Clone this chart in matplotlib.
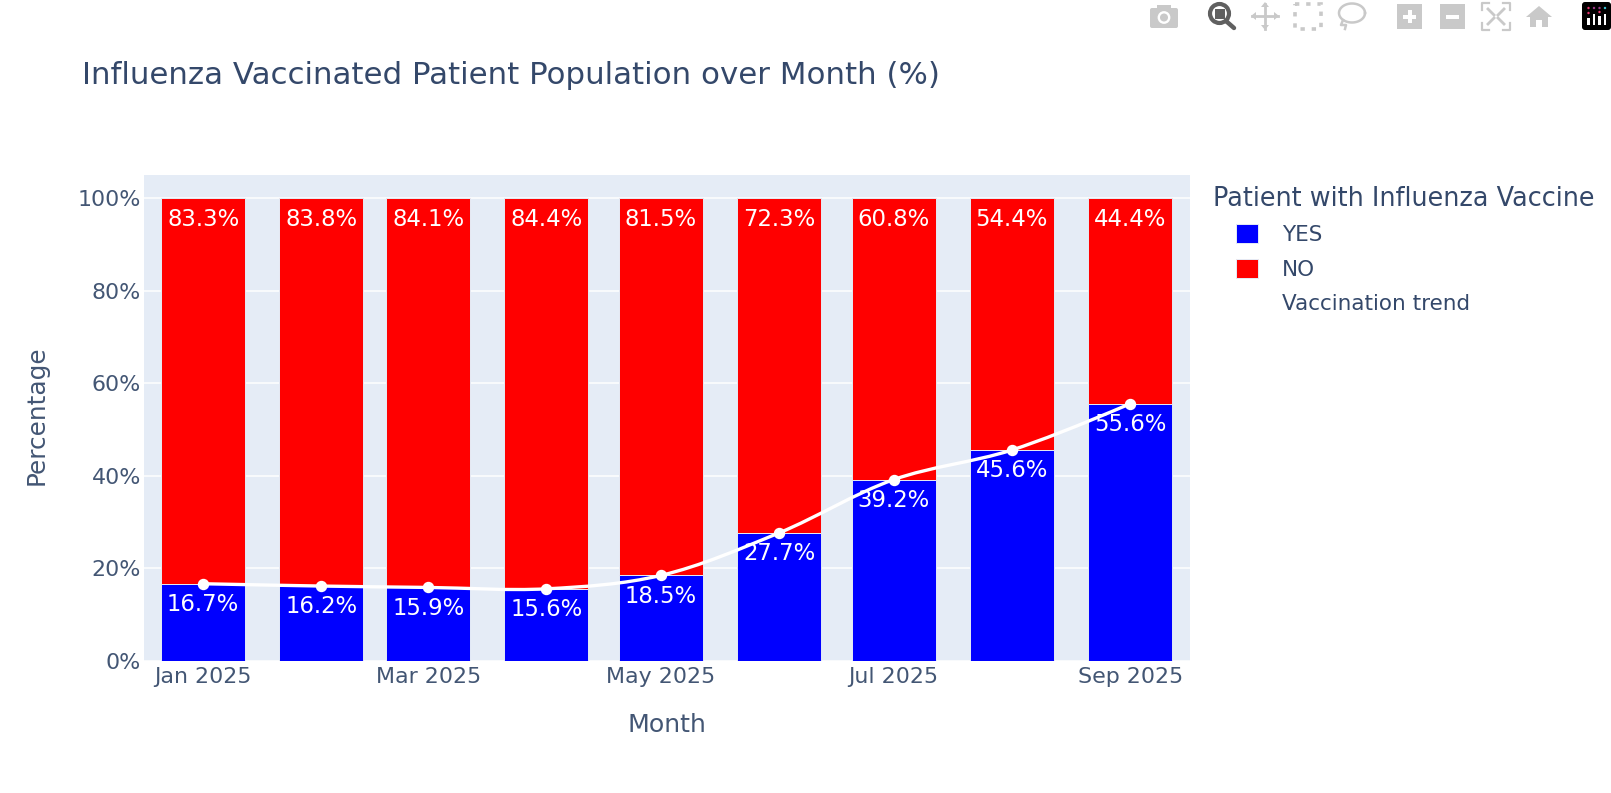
from datetime import datetime

import matplotlib
matplotlib.use("Agg")
import matplotlib.dates as mdates
import matplotlib.pyplot as plt
import numpy as np
from matplotlib.lines import Line2D
from matplotlib.patches import (Circle, FancyBboxPatch, PathPatch, Polygon,
                                Rectangle)
from matplotlib.path import Path

# Monthly vaccination shares, in percent
months = ["2025-01-01", "2025-02-01", "2025-03-01", "2025-04-01", "2025-05-01",
          "2025-06-01", "2025-07-01", "2025-08-01", "2025-09-01"]
vaccinated_yes = [16.7, 16.2, 15.9, 15.6, 18.5, 27.7, 39.2, 45.6, 55.6]
vaccinated_no = [83.3, 83.8, 84.1, 84.4, 81.5, 72.3, 60.8, 54.4, 44.4]
x_tick_months = ["2025-01-01", "2025-03-01", "2025-05-01", "2025-07-01", "2025-09-01"]
x_tick_labels = ["Jan 2025", "Mar 2025", "May 2025", "Jul 2025", "Sep 2025"]
y_ticks = [0, 20, 40, 60, 80, 100]

INK = "#34486a"
TICK_INK = "#435674"
PLOT_BG = "#e5ecf6"
W, H = 1611, 793

plt.rcParams["font.family"] = "DejaVu Sans"
fig = plt.figure(figsize=(W / 100, H / 100), dpi=100, facecolor="white")
ax = fig.add_axes([144 / W, 1 - 661 / H, (1190 - 144) / W, (661 - 175) / H])
ax.set_facecolor(PLOT_BG)

dates = [mdates.date2num(datetime.strptime(m, "%Y-%m-%d")) for m in months]
BAR_DAYS = 22

bars_yes = ax.bar(dates, vaccinated_yes, width=BAR_DAYS, color="#0000ff",
                  edgecolor=PLOT_BG, linewidth=0.7, zorder=2, label="YES")
bars_no = ax.bar(dates, vaccinated_no, width=BAR_DAYS, bottom=vaccinated_yes,
                 color="#ff0000", edgecolor=PLOT_BG, linewidth=0.7, zorder=2, label="NO")

ax.set_xlim(dates[0] - 15.5, dates[-1] + 15.7)
ax.set_ylim(0, 105.05)
ax.set_yticks(y_ticks)
ax.set_yticklabels([f"{v}%" for v in y_ticks])
ax.set_xticks([mdates.date2num(datetime.strptime(m, "%Y-%m-%d")) for m in x_tick_months])
ax.set_xticklabels(x_tick_labels)
ax.tick_params(axis="x", length=0, labelsize=15.9, labelcolor=TICK_INK, pad=4.3)
ax.tick_params(axis="y", length=0, labelsize=15.9, labelcolor=TICK_INK, pad=2)
ax.grid(axis="y", color="white", linewidth=1.1, zorder=1)
ax.set_axisbelow(True)
for spine in ax.spines.values():
    spine.set_visible(False)
ax.set_xlabel("Month", fontsize=18.2, color=TICK_INK, labelpad=19)
ax.set_ylabel("Percentage", fontsize=17.8, color=TICK_INK, labelpad=21, y=0.505)


def spline_path(xs, ys, sx, sy):
    """Smoothed path through the points, tangents computed in screen proportions."""
    pts = np.column_stack([np.asarray(xs) * sx, np.asarray(ys) * sy])
    tangents = []
    for i in range(1, len(pts) - 1):
        d1 = pts[i - 1] - pts[i]
        d2 = pts[i + 1] - pts[i]
        a1 = np.hypot(*d1) ** 0.5
        a2 = np.hypot(*d2) ** 0.5
        num = a2 * a2 * d1 - a1 * a1 * d2
        tangents.append((pts[i] + num / (3 * a2 * (a1 + a2)),
                         pts[i] - num / (3 * a1 * (a1 + a2))))
    verts = [pts[0], tangents[0][0], pts[1]]
    codes = [Path.MOVETO, Path.CURVE3, Path.CURVE3]
    for i in range(2, len(pts) - 1):
        verts += [tangents[i - 2][1], tangents[i - 1][0], pts[i]]
        codes += [Path.CURVE4] * 3
    verts += [tangents[-1][1], pts[-1]]
    codes += [Path.CURVE3] * 2
    return Path(np.array(verts) / [sx, sy], codes)


# Trend line over the YES share
ax.add_patch(PathPatch(spline_path(dates, vaccinated_yes, 3.815, 4.625),
                       facecolor="none", edgecolor="white", linewidth=2.4, zorder=3))
trend = ax.plot(dates, vaccinated_yes, linestyle="none", marker="o", color="white",
                markersize=7.2, zorder=4, label="Vaccination trend")[0]

# Value labels sit just inside the top of each segment
for d, yes, no in zip(dates, vaccinated_yes, vaccinated_no):
    ax.annotate(f"{yes:.1f}%", (d, yes), xytext=(0, -15), textcoords="offset points",
                ha="center", va="center", color="white", fontsize=16.4, zorder=5)
    ax.annotate(f"{no:.1f}%", (d, yes + no), xytext=(0, -15.5), textcoords="offset points",
                ha="center", va="center", color="white", fontsize=16.4, zorder=5)

fig.text(82 / W, 1 - 75 / H, "Influenza Vaccinated Patient Population over Month (%)",
         fontsize=22.2, color=INK, ha="left", va="center")

# Legend
handles = [Rectangle((0, 0), 1, 1, facecolor="#0000ff", edgecolor=PLOT_BG, linewidth=0.7),
           Rectangle((0, 0), 1, 1, facecolor="#ff0000", edgecolor=PLOT_BG, linewidth=0.7),
           Line2D([], [], color="white", marker="o", markerfacecolor="white", linewidth=2)]
legend = fig.legend(handles, ["YES", "NO", "Vaccination trend"],
                    loc="upper left", bbox_to_anchor=(1236 / W, 1 - 224 / H),
                    frameon=False, fontsize=15.5,
                    handlelength=1.0, handleheight=1.0, handletextpad=1.14,
                    labelspacing=0.63, borderpad=0, borderaxespad=0)
for t in legend.get_texts():
    t.set_color(INK)
fig.text(1213 / W, 1 - 199 / H, "Patient with Influenza Vaccine", fontsize=18.4,
         color=INK, ha="left", va="center")

# Modebar icons along the top edge, drawn in pixel coordinates
tb = fig.add_axes([0, 0, 1, 1], zorder=10)
tb.set_xlim(0, W)
tb.set_ylim(H, 0)
tb.axis("off")
tb.patch.set_alpha(0)
GREY = "#c9c9c9"
DARK = "#606060"

# camera
tb.add_patch(FancyBboxPatch((1150, 8), 28, 20, boxstyle="round,pad=0,rounding_size=2", fc=GREY, ec="none"))
tb.add_patch(Rectangle((1157, 5), 14, 4, fc=GREY, ec="none"))
tb.add_patch(Circle((1164, 17.5), 6.4, fc="white", ec="none"))
tb.add_patch(Circle((1164, 17.5), 4, fc=GREY, ec="none"))
# zoom lens (active)
tb.add_patch(Circle((1219.5, 13.5), 9.5, fc="white", ec=DARK, lw=3))
tb.add_patch(Rectangle((1214.5, 8.5), 10, 10, fc=DARK, ec="none"))
tb.plot([1226, 1234], [21, 28], color=DARK, lw=3.2, solid_capstyle="round")
# pan
tb.plot([1252, 1278], [16, 16], color=GREY, lw=2)
tb.plot([1265, 1265], [4, 29], color=GREY, lw=2)
for tip in ([1251, 16, 1256, 12, 1256, 20], [1279, 16, 1274, 12, 1274, 20],
            [1265, 2, 1261, 7, 1269, 7], [1265, 30, 1261, 25, 1269, 25]):
    tb.add_patch(Polygon(np.reshape(tip, (3, 2)), fc=GREY, ec="none"))
# box select
tb.add_patch(Rectangle((1295, 3.5), 26, 25, fc="none", ec=GREY, lw=2.6, ls=(0, (1.2, 1.9))))
# lasso
theta = np.linspace(0, 2 * np.pi, 80)
tb.plot(1352 + 13 * np.cos(theta), 13 + 9.5 * np.sin(theta), color=GREY, lw=1.8)
tb.plot([1343, 1341, 1346, 1345], [20, 25, 25, 29], color=GREY, lw=1.8)
# zoom in / zoom out
tb.add_patch(Rectangle((1397, 4), 25, 25, fc=GREY, ec="none"))
tb.add_patch(Rectangle((1403, 14.5), 13, 4, fc="white", ec="none"))
tb.add_patch(Rectangle((1407.5, 10), 4, 13, fc="white", ec="none"))
tb.add_patch(Rectangle((1440, 4), 25, 25, fc=GREY, ec="none"))
tb.add_patch(Rectangle((1446, 14.5), 13, 4, fc="white", ec="none"))
# autoscale
for cx, cy, sx, sy in ((1482, 3, 1, 1), (1510, 3, -1, 1), (1482, 30, 1, -1), (1510, 30, -1, -1)):
    tb.plot([cx + 7 * sx, cx, cx], [cy, cy, cy + 7 * sy], color=GREY, lw=1.6)
    tb.plot([cx + 6 * sx, cx + 12 * sx], [cy + 6 * sy, cy + 12 * sy], color=GREY, lw=2)
# home
tb.add_patch(Polygon([[1526, 17], [1539, 6], [1552, 17], [1548, 17], [1548, 27],
                      [1542, 27], [1542, 20], [1536, 20], [1536, 27], [1530, 27], [1530, 17]],
                     fc=GREY, ec="none"))
# logo tile
tb.add_patch(FancyBboxPatch((1582, 2), 29, 28, boxstyle="round,pad=0,rounding_size=3", fc="black", ec="none"))
for bx, top in zip((1588.5, 1594, 1599.5, 1605), (18, 14, 16, 14)):
    tb.add_patch(Rectangle((bx - 1.2, top), 2.4, 25 - top, fc="white", ec="none"))
for bx, by, col in ((1588.5, 8, "#e8336d"), (1594, 8, "#a03a8c"), (1599.5, 8, "#a03a8c"),
                    (1605, 8, "#3bc4d8"), (1588.5, 13, "#e8336d"), (1599.5, 12, "#e8336d")):
    tb.add_patch(Circle((bx, by), 1.2, fc=col, ec="none"))

fig.savefig("out.png", dpi=100, facecolor="white")
